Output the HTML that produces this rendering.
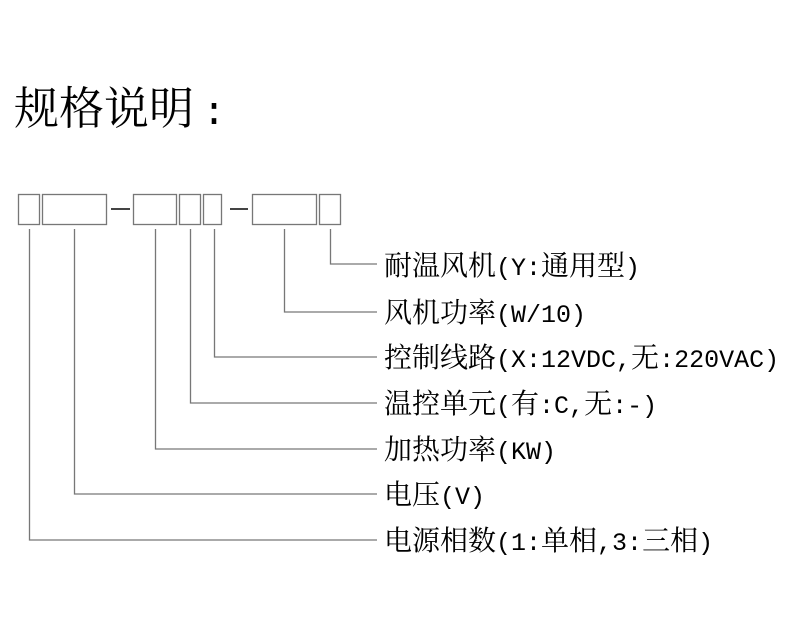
<!DOCTYPE html>
<html><head><meta charset="utf-8"><style>
html,body{margin:0;padding:0;background:#fff;width:800px;height:640px;overflow:hidden}
svg{display:block}
.t{font-family:"Noto Serif CJK SC","Noto Sans CJK SC",serif;font-size:28px;fill:#000}
.m{font-family:"Liberation Mono",monospace;font-size:25px}
</style></head><body>
<svg width="800" height="640" xmlns="http://www.w3.org/2000/svg">
<text x="14" y="124" style="font-family:'Noto Serif CJK SC','Noto Sans CJK SC',serif;font-size:45px" fill="#000">规格说明<tspan dx="8" style="font-family:'Liberation Mono',monospace;font-size:40px">:</tspan></text>
<g fill="none" stroke="#777" stroke-width="1.3">
<rect x="18.5" y="194.5" width="21" height="30"/>
<rect x="42.5" y="194.5" width="64" height="30"/>
<rect x="133.5" y="194.5" width="43" height="30"/>
<rect x="179.5" y="194.5" width="21" height="30"/>
<rect x="203.5" y="194.5" width="18" height="30"/>
<rect x="252.5" y="194.5" width="64" height="30"/>
<rect x="319.5" y="194.5" width="21" height="30"/>
<path d="M330.5 229V264H377M284.5 229V312H377M214.5 229V357H377M190.5 229V403H377M155.5 229V449H377M74.5 229V494H377M29.5 229V540H377"/>
</g>
<g stroke="#444" stroke-width="2"><path d="M111 209H130M230 209H248"/></g>
<g class="t">
<text x="384" y="275">耐温风机<tspan class="m">(Y:</tspan>通用型<tspan class="m">)</tspan></text>
<text x="384" y="322">风机功率<tspan class="m">(W/10)</tspan></text>
<text x="384" y="367">控制线路<tspan class="m">(X:12VDC,</tspan>无<tspan class="m">:220VAC)</tspan></text>
<text x="384" y="413">温控单元<tspan class="m">(</tspan>有<tspan class="m">:C,</tspan>无<tspan class="m">:-)</tspan></text>
<text x="384" y="459">加热功率<tspan class="m">(KW)</tspan></text>
<text x="384" y="504">电压<tspan class="m">(V)</tspan></text>
<text x="384" y="550">电源相数<tspan class="m">(1:</tspan>单相<tspan class="m">,3:</tspan>三相<tspan class="m">)</tspan></text>
</g>
</svg>
</body></html>
